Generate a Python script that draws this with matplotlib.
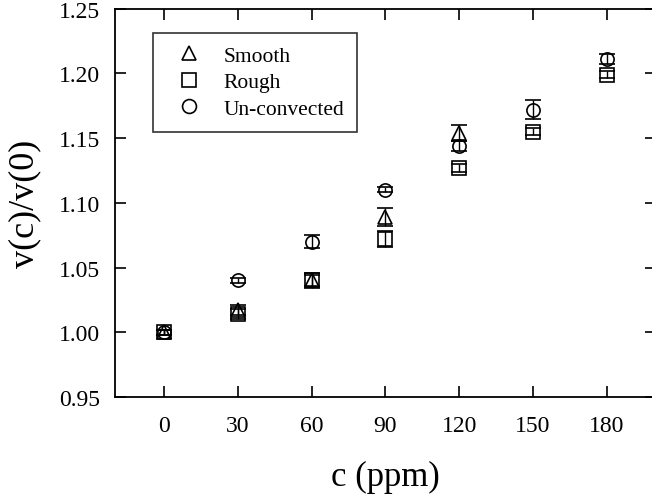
import matplotlib
matplotlib.use("Agg")
import matplotlib.pyplot as plt
from matplotlib.lines import Line2D

# concentration (ppm)
conc_smooth = [0, 30, 60, 90, 120]
conc_rough = [0, 30, 60, 90, 120, 150, 180]
conc_unconv = [0, 30, 60, 90, 120, 150, 180]

# v(c)/v(0) and error bars
ratio_smooth = [1.000, 1.017, 1.040, 1.089, 1.154]
err_smooth = [0.002, 0.004, 0.006, 0.007, 0.006]

ratio_rough = [1.000, 1.014, 1.040, 1.072, 1.127, 1.155, 1.199]
err_rough = [0.002, 0.004, 0.004, 0.006, 0.003, 0.003, 0.003]

ratio_unconv = [1.000, 1.040, 1.070, 1.110, 1.144, 1.172, 1.211]
err_unconv = [0.002, 0.002, 0.005, 0.002, 0.004, 0.007, 0.004]

labels = ["Smooth", "Rough", "Un-convected"]
markers = ["^", "s", "o"]

xticks = [0, 30, 60, 90, 120, 150, 180]
yticks = [0.95, 1.00, 1.05, 1.10, 1.15, 1.20, 1.25]

plt.rcParams["font.family"] = ["Liberation Serif", "DejaVu Serif"]

fig = plt.figure(figsize=(6.52, 5.02), dpi=100)
ax = fig.add_axes([0.1764, 0.2072, 0.8296, 0.7738])

style = dict(ls="none", mfc="none", mec="black", mew=1.2, ms=9.5,
             ecolor="black", elinewidth=1.0, capsize=5.5, capthick=1.0)

series = [(conc_smooth, ratio_smooth, err_smooth),
          (conc_rough, ratio_rough, err_rough),
          (conc_unconv, ratio_unconv, err_unconv)]
for (x, y, e), m in zip(series, markers):
    ax.errorbar(x, y, yerr=e, marker=m, **style)

ax.set_xlim(-20, 200)
ax.set_ylim(0.95, 1.25)
ax.set_xticks(xticks)
ax.set_yticks(yticks)
ax.set_yticklabels([f"{t:.2f}" for t in yticks])
ax.tick_params(direction="in", length=8, width=1.2, labelsize=17,
               top=True, right=True)
ax.tick_params(axis="x", pad=13)
ax.tick_params(axis="y", pad=11)
for s in ax.spines.values():
    s.set_linewidth(1.3)

ax.set_xlabel("c (ppm)", fontsize=25, labelpad=17)
ax.set_ylabel("v(c)/v(0)", fontsize=26, labelpad=12)

handles = [Line2D([], [], ls="none", marker=m, mfc="none", mec="black",
                  mew=1.2, ms=10) for m in markers]
leg = ax.legend(handles, labels, loc="upper left",
                bbox_to_anchor=(0.0698, 0.9378),
                fontsize=15.5, frameon=True, fancybox=False, handlelength=2.15,
                handletextpad=0.55, borderpad=0.6, labelspacing=0.3,
                borderaxespad=0)
leg.get_frame().set_edgecolor("black")
leg.get_frame().set_linewidth(1.2)

fig.savefig("out.png", dpi=100)
